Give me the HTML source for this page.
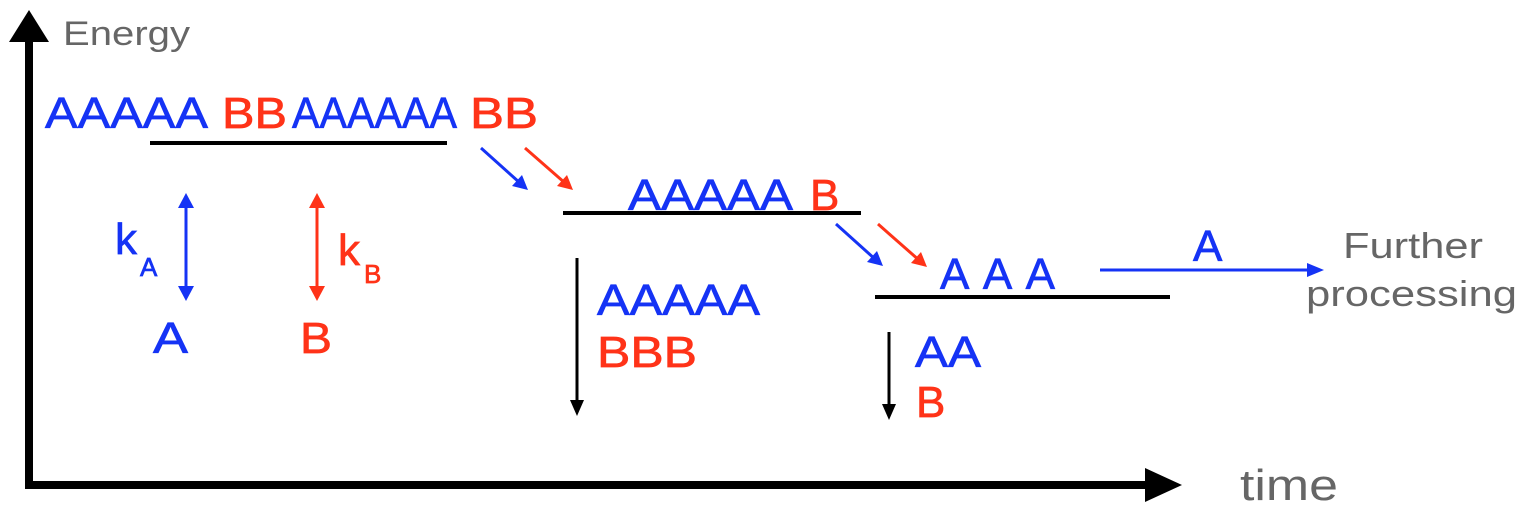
<!DOCTYPE html>
<html><head><meta charset="utf-8"><style>html,body{margin:0;padding:0;background:#fff}svg{display:block}</style></head>
<body>
<svg width="1524" height="515" viewBox="0 0 1524 515" xmlns="http://www.w3.org/2000/svg" font-family="'Liberation Sans', sans-serif">
<!-- axes -->
<rect x="25" y="38" width="8" height="451" fill="#000"/>
<polygon points="29,10 9,42 49,42" fill="#000"/>
<rect x="25" y="481" width="1122" height="8" fill="#000"/>
<polygon points="1182,485 1145,468 1145,502" fill="#000"/>
<text x="63" y="45" font-size="34" fill="#666" textLength="127" lengthAdjust="spacingAndGlyphs">Energy</text>
<text x="1240" y="500" font-size="44" fill="#666" textLength="98" lengthAdjust="spacingAndGlyphs">time</text>

<g font-size="44" stroke-width="0.7">
<!-- level 1 -->
<text x="45" y="128" fill="#1533f5" stroke="#1533f5" textLength="163" lengthAdjust="spacingAndGlyphs">AAAAA</text>
<text x="222" y="128" fill="#ff3318" stroke="#ff3318" textLength="65" lengthAdjust="spacingAndGlyphs">BB</text>
<text x="292" y="128" fill="#1533f5" stroke="#1533f5" textLength="165" lengthAdjust="spacingAndGlyphs">AAAAAA</text>
<text x="470" y="128" fill="#ff3318" stroke="#ff3318" textLength="68" lengthAdjust="spacingAndGlyphs">BB</text>

<text x="115" y="254" fill="#1533f5" stroke="#1533f5">k</text>
<text x="140" y="276" font-size="26" fill="#1533f5" stroke="#1533f5">A</text>
<text x="338" y="265" fill="#ff3318" stroke="#ff3318">k</text>
<text x="364" y="283" font-size="26" fill="#ff3318" stroke="#ff3318">B</text>
<text x="153" y="353" fill="#1533f5" stroke="#1533f5" textLength="35" lengthAdjust="spacingAndGlyphs">A</text>
<text x="300" y="353" fill="#ff3318" stroke="#ff3318" textLength="32" lengthAdjust="spacingAndGlyphs">B</text>

<!-- level 2 -->
<text x="628" y="210" fill="#1533f5" stroke="#1533f5" textLength="165" lengthAdjust="spacingAndGlyphs">AAAAA</text>
<text x="810" y="210" fill="#ff3318" stroke="#ff3318">B</text>
<text x="597" y="315" fill="#1533f5" stroke="#1533f5" textLength="163" lengthAdjust="spacingAndGlyphs">AAAAA</text>
<text x="597" y="367" fill="#ff3318" stroke="#ff3318" textLength="100" lengthAdjust="spacingAndGlyphs">BBB</text>

<!-- level 3 -->
<text x="940" y="289" fill="#1533f5" stroke="#1533f5" textLength="115" lengthAdjust="spacing">AAA</text>
<text x="915" y="367" fill="#1533f5" stroke="#1533f5" textLength="66" lengthAdjust="spacingAndGlyphs">AA</text>
<text x="916" y="417" fill="#ff3318" stroke="#ff3318">B</text>
<text x="1193" y="261" fill="#1533f5" stroke="#1533f5">A</text>
</g>

<rect x="150" y="141" width="297" height="4" fill="#000"/>
<line x1="481" y1="148" x2="520" y2="183" stroke="#1533f5" stroke-width="3"/>
<polygon points="528,190 512,186 522,175" fill="#1533f5"/>
<line x1="525" y1="148" x2="565" y2="183" stroke="#ff3318" stroke-width="3"/>
<polygon points="573,190 557,186 567,175" fill="#ff3318"/>

<line x1="186" y1="200" x2="186" y2="292" stroke="#1533f5" stroke-width="3"/>
<line x1="317" y1="200" x2="317" y2="292" stroke="#ff3318" stroke-width="3"/>
<polygon points="186,193 178,208 194,208" fill="#1533f5"/>
<polygon points="186,301 178,286 194,286" fill="#1533f5"/>
<polygon points="317,193 309,208 325,208" fill="#ff3318"/>
<polygon points="317,301 309,286 325,286" fill="#ff3318"/>

<rect x="563" y="211" width="298" height="4" fill="#000"/>
<line x1="577" y1="258" x2="577" y2="405" stroke="#000" stroke-width="3"/>
<polygon points="577,416 570,400 584,400" fill="#000"/>
<line x1="836" y1="224" x2="876" y2="260" stroke="#1533f5" stroke-width="3"/>
<polygon points="883,266 867,262 877,251" fill="#1533f5"/>
<line x1="878" y1="224" x2="920" y2="261" stroke="#ff3318" stroke-width="3"/>
<polygon points="927,267 911,263 921,252" fill="#ff3318"/>

<rect x="875" y="295" width="295" height="4" fill="#000"/>
<line x1="889" y1="332" x2="889" y2="408" stroke="#000" stroke-width="3"/>
<polygon points="889,420 882,404 896,404" fill="#000"/>
<line x1="1100" y1="270" x2="1310" y2="270" stroke="#1533f5" stroke-width="3"/>
<polygon points="1324,270 1307,263 1307,277" fill="#1533f5"/>
<text x="1343" y="258" font-size="36" fill="#666" textLength="140" lengthAdjust="spacingAndGlyphs">Further</text>
<text x="1306" y="306" font-size="36" fill="#666" textLength="211" lengthAdjust="spacingAndGlyphs">processing</text>
</svg>
</body></html>
